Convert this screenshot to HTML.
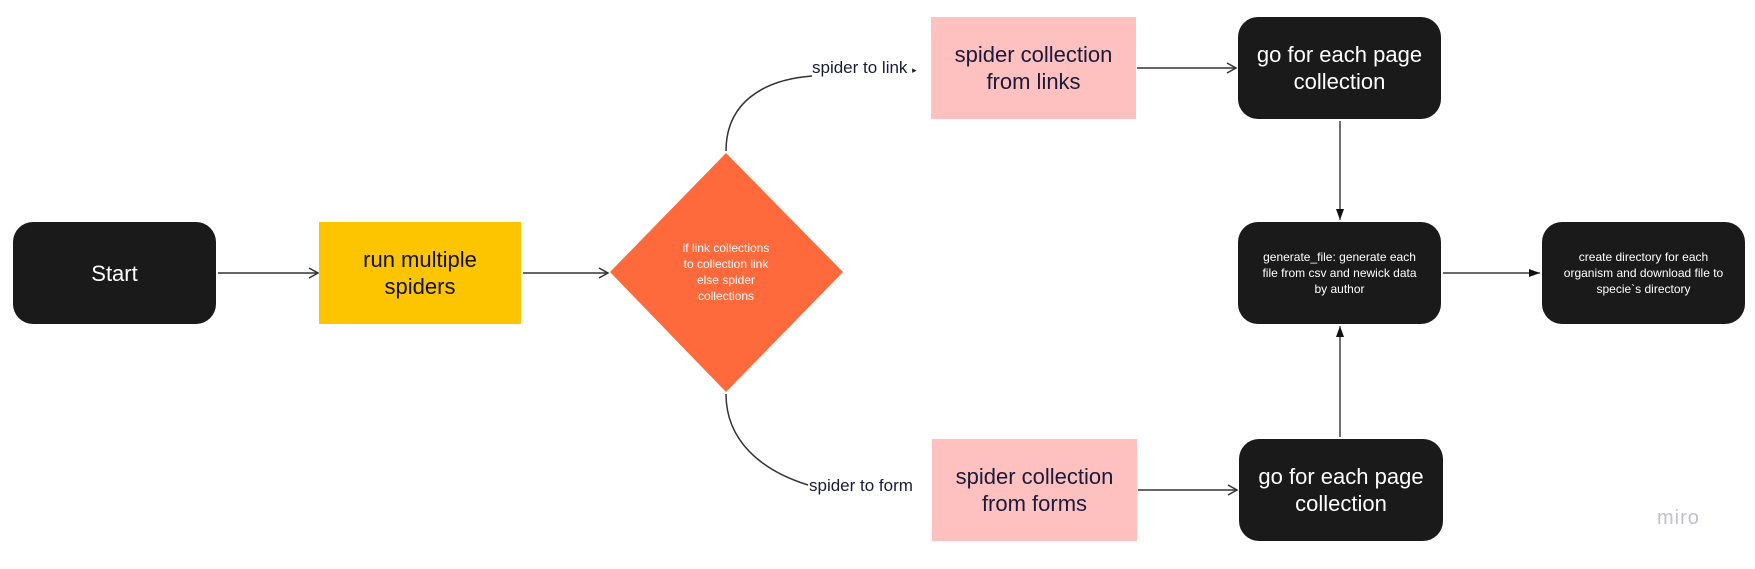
<!DOCTYPE html>
<html><head><style>
body{margin:0;width:1755px;height:569px;background:#fff;position:relative;overflow:hidden;font-family:"Liberation Sans",sans-serif}
.b{position:absolute;display:flex;align-items:center;justify-content:center;text-align:center;box-sizing:border-box}
.k{background:#1a1a1a;color:#fff;border-radius:20px}
.big{font-size:22px;line-height:27px}
.sm{font-size:12px;line-height:16px}
.p{background:#ffc0c0;color:#1a1a3a}
svg{position:absolute;left:0;top:0}
.lab{position:absolute;font-size:17px;color:#1a1a3a;background:#fff}
</style></head><body>
<svg width="1755" height="569">
<defs><marker id="a" markerWidth="12" markerHeight="12" refX="10" refY="6" orient="auto" markerUnits="userSpaceOnUse"><path d="M1,1 L10,6 L1,11" fill="none" stroke="#333" stroke-width="1.5"/></marker>
<marker id="f" markerWidth="12" markerHeight="12" refX="11" refY="5" orient="auto" markerUnits="userSpaceOnUse"><path d="M0,1 L11,5 L0,9 Z" fill="#111"/></marker></defs>
<polygon points="726,153 843,272 726,392 610,272" fill="#ff6a3d"/>
<g stroke="#333" stroke-width="1.5" fill="none">
<line x1="218" y1="273" x2="318" y2="273" marker-end="url(#a)"/>
<line x1="523" y1="273" x2="608" y2="273" marker-end="url(#a)"/>
<line x1="1137" y1="68" x2="1236" y2="68" marker-end="url(#a)"/>
<line x1="1138" y1="490" x2="1237" y2="490" marker-end="url(#a)"/>
<path d="M726,151 C726,105 760,80 812,76"/>
<path d="M726,394 C726,440 760,470 808,485"/>
</g>
<g stroke="#111" stroke-width="1.2">
<line x1="1340" y1="121" x2="1340" y2="220" marker-end="url(#f)"/>
<line x1="1340" y1="437" x2="1340" y2="326" marker-end="url(#f)"/>
<line x1="1443" y1="273" x2="1540" y2="273" marker-end="url(#f)"/>
</g>
</svg>
<div class="b k big" style="left:13px;top:222px;width:203px;height:102px">Start</div>
<div class="b big" style="left:319px;top:222px;width:202px;height:102px;background:#fcc500;color:#111">run multiple<br>spiders</div>
<div class="b sm" style="left:650px;top:230px;width:152px;height:84px;color:#fff">if link collections<br>to collection link<br>else spider<br>collections</div>
<div class="lab" style="left:812px;top:58px">spider to link <span style="font-size:9px">▸</span></div>
<div class="lab" style="left:809px;top:476px">spider to form</div>
<div class="b p big" style="left:931px;top:17px;width:205px;height:102px">spider collection<br>from links</div>
<div class="b p big" style="left:932px;top:439px;width:205px;height:102px">spider collection<br>from forms</div>
<div class="b k big" style="left:1238px;top:17px;width:203px;height:102px">go for each page<br>collection</div>
<div class="b k big" style="left:1239px;top:439px;width:204px;height:102px">go for each page<br>collection</div>
<div class="b k sm" style="left:1238px;top:222px;width:203px;height:102px">generate_file: generate each<br>file from csv and newick data<br>by author</div>
<div class="b k sm" style="left:1542px;top:222px;width:203px;height:102px">create directory for each<br>organism and download file to<br>specie`s directory</div>
<div style="position:absolute;left:1657px;top:507px;font-size:20px;color:#c0c0cc;letter-spacing:1px">miro</div>
</body></html>
